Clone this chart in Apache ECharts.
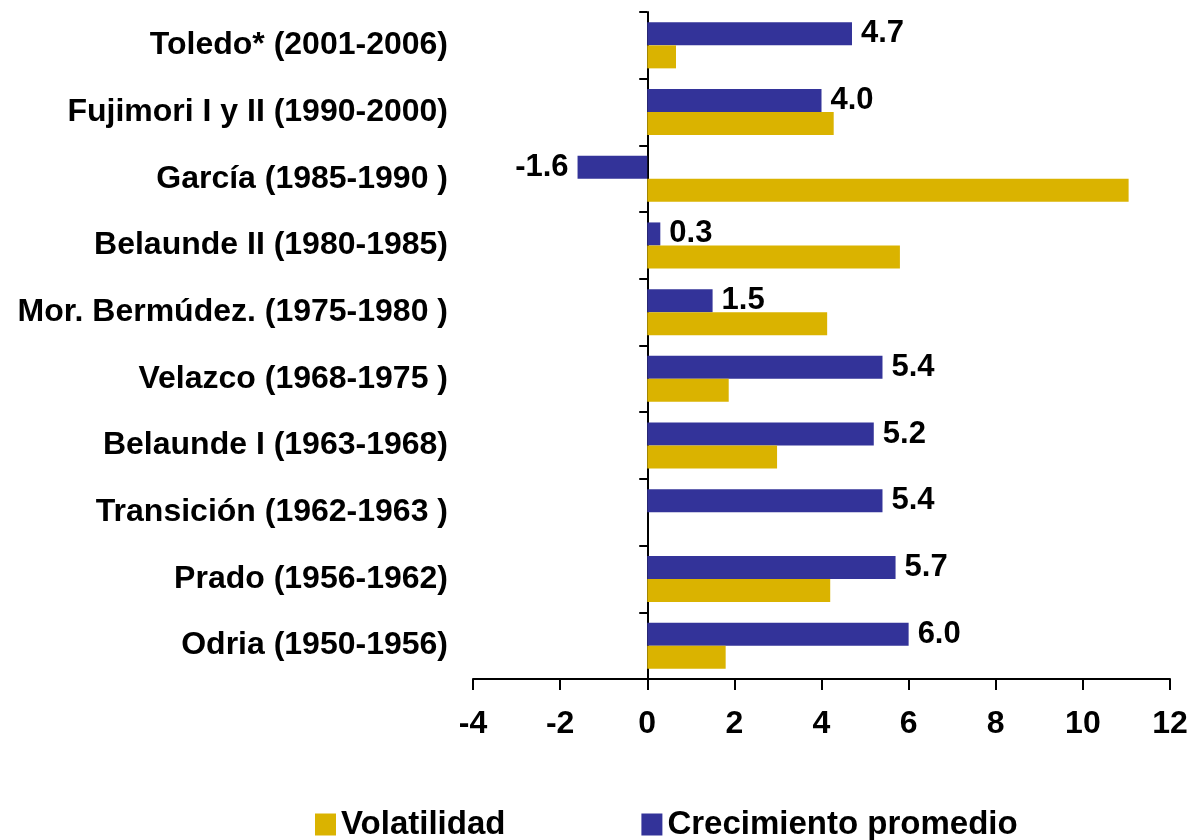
<!DOCTYPE html>
<html>
<head>
<meta charset="utf-8">
<script src="https://cdn.jsdelivr.net/npm/echarts@6/dist/echarts.min.js"></script>
<style>
  html,body{margin:0;padding:0;background:#fff;}
  #main{width:1191px;height:840px;}
</style>
</head>
<body>
<div id="main"></div>
<script>
// categorias de abajo hacia arriba (orden del eje y)
const periodos = [
  'Odria (1950-1956)',
  'Prado (1956-1962)',
  'Transición (1962-1963 )',
  'Belaunde I (1963-1968)',
  'Velazco (1968-1975 )',
  'Mor. Bermúdez. (1975-1980 )',
  'Belaunde II (1980-1985)',
  'García (1985-1990 )',
  'Fujimori I y II (1990-2000)',
  'Toledo* (2001-2006)'
];
const volatilidad = [1.8, 4.2, null, 2.98, 1.87, 4.13, 5.8, 11.05, 4.28, 0.66];
const crecimiento = [6.0, 5.7, 5.4, 5.2, 5.4, 1.5, 0.3, -1.6, 4.0, 4.7];
const xTicks = {min: -4, max: 12, interval: 2};

const FONT = 'Liberation Sans, Arial, sans-serif';
const AZUL = '#333399', AMARILLO = '#DAB300';

let chart = echarts.init(document.getElementById('main'));
chart.setOption({
  animation: false,
  textStyle: {fontFamily: FONT},
  grid: {left: 473, right: 21, top: 12, bottom: 161},
  legend: {
    data: ['Volatilidad', 'Crecimiento promedio'],
    left: 310,
    top: 803,
    icon: 'rect',
    itemWidth: 21,
    itemHeight: 22,
    itemGap: 136,
    textStyle: {fontSize: 33, fontWeight: 'bold', color: '#000', fontFamily: FONT}
  },
  xAxis: {
    type: 'value',
    min: xTicks.min,
    max: xTicks.max,
    interval: xTicks.interval,
    splitLine: {show: false},
    axisLine: {show: true, onZero: false, lineStyle: {color: '#000', width: 2}},
    axisTick: {show: true, length: 11, lineStyle: {color: '#000', width: 2}},
    axisLabel: {fontSize: 32, fontWeight: 'bold', color: '#000', margin: 29, fontFamily: FONT}
  },
  yAxis: [
    {
      // eje en el cero, solo linea y marcas
      type: 'category',
      data: periodos,
      axisLine: {show: true, onZero: true, lineStyle: {color: '#000', width: 2}},
      axisTick: {show: true, length: 8, lineStyle: {color: '#000', width: 2}},
      axisLabel: {show: false},
      splitLine: {show: false}
    },
    {
      // etiquetas al borde izquierdo
      type: 'category',
      position: 'left',
      data: periodos,
      axisLine: {show: false, onZero: false},
      axisTick: {show: false},
      splitLine: {show: false},
      axisLabel: {fontSize: 32, fontWeight: 'bold', color: '#000', margin: 25, fontFamily: FONT}
    }
  ],
  series: [
    {
      name: 'Crecimiento promedio',
      type: 'bar',
      yAxisIndex: 0,
      barGap: '0%',
      barCategoryGap: '31%',
      itemStyle: {color: AZUL},
      label: {
        show: true,
        position: 'right',
        distance: 9,
        fontSize: 31,
        fontWeight: 'bold',
        color: '#000',
        fontFamily: FONT,
        formatter: p => p.value.toFixed(1)
      },
      data: crecimiento.map(v => v < 0 ? {value: v, label: {position: 'left'}} : v)
    },
    {
      name: 'Volatilidad',
      type: 'bar',
      yAxisIndex: 0,
      barGap: '0%',
      barCategoryGap: '31%',
      itemStyle: {color: AMARILLO},
      data: volatilidad
    }
  ]
});
</script>
</body>
</html>
